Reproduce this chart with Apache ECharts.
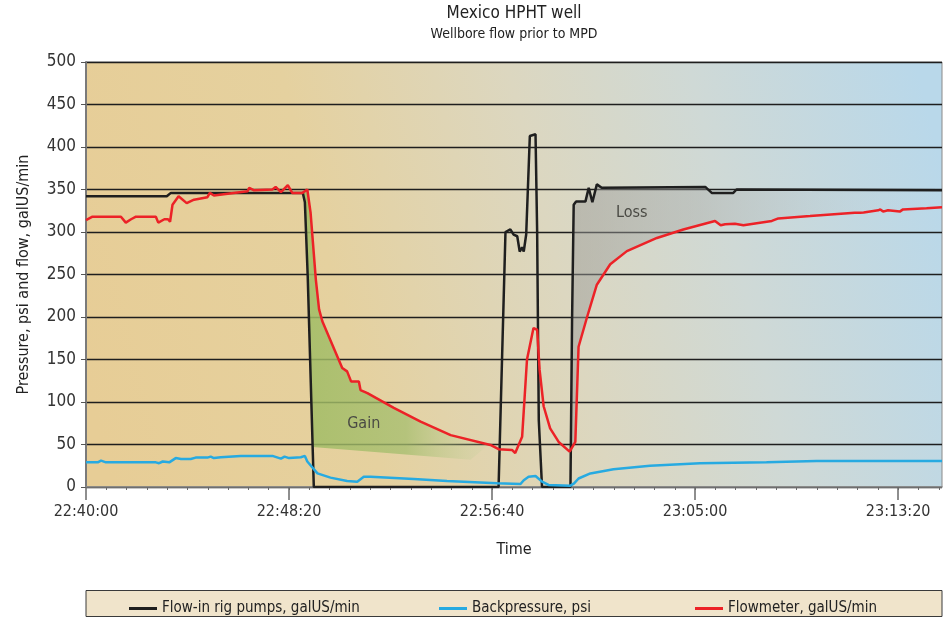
<!DOCTYPE html>
<html>
<head>
<meta charset="utf-8">
<title>Mexico HPHT well</title>
<script src="https://cdn.jsdelivr.net/npm/echarts@6/dist/echarts.min.js"></script>
<style>
  html, body { margin: 0; padding: 0; background: #fff; }
  #chart { width: 948px; height: 618px; }
</style>
</head>
<body>
<div id="chart"></div>
<script>
// Time is stored as seconds after 22:40:00.
const START_SECONDS = 22 * 3600 + 40 * 60;
const timeTicks = [0, 500, 1000, 1500, 2000];
const timeMax = 2108;

// Flow-in rig pumps, galUS/min  [seconds, value]
const flowIn = [
  [0, 342], [199, 342], [209, 346], [534, 346], [539, 335], [546, 248], [555, 99], [561, 0],
  [1016, 0], [1033, 300], [1045, 303], [1053, 297], [1062, 295], [1068, 277], [1074, 282],
  [1078, 277], [1084, 297], [1093, 413], [1097, 415], [1107, 415], [1111, 300], [1115, 79],
  [1123, 0], [1193, 0], [1197, 197], [1201, 332], [1207, 336], [1230, 336], [1238, 352],
  [1247, 335], [1258, 356], [1270, 352], [1525, 353], [1541, 346], [1594, 346], [1602, 350],
  [2108, 349]
];

// Backpressure, psi
const backpressure = [
  [0, 29], [29, 29], [37, 31], [49, 29], [86, 29], [172, 29], [180, 28], [189, 30], [205, 29],
  [221, 34], [234, 33], [258, 33], [270, 34.6], [299, 34.6], [307, 35.8], [315, 34], [332, 35],
  [381, 36.6], [459, 36.6], [480, 33.4], [489, 35.8], [500, 34], [529, 35], [539, 36.6],
  [545, 30], [570, 16], [602, 11], [643, 7], [668, 6.3], [672, 6.3], [684, 12], [701, 12],
  [807, 9.4], [889, 7], [1012, 4.3], [1070, 3.5], [1078, 8], [1090, 12], [1107, 13], [1123, 6.3],
  [1139, 2.4], [1193, 1.6], [1202, 4.3], [1213, 10], [1242, 16], [1299, 21], [1389, 25],
  [1512, 28], [1676, 29], [1799, 30.7], [2108, 30.7]
];

// Flowmeter, galUS/min
const flowmeter = [
  [0, 314], [16, 318], [86, 318], [98, 311], [111, 315], [123, 318], [172, 318], [178, 311],
  [193, 315], [202, 315], [207, 312], [213, 332], [228, 342], [248, 334], [266, 338], [299, 341],
  [305, 346], [315, 343], [398, 348], [402, 352], [414, 349], [459, 350], [467, 353], [480, 347],
  [497, 355], [508, 346], [533, 346], [545, 350], [553, 323], [566, 244], [574, 209], [582, 195],
  [631, 140], [643, 136], [653, 124], [672, 124], [676, 114], [693, 110.5], [758, 93], [824, 77],
  [898, 61], [996, 49.5], [1016, 44.5], [1049, 43.6], [1052, 45.6], [1057, 40], [1074, 59],
  [1086, 150], [1102, 187], [1111, 185], [1117, 138], [1127, 95], [1143, 69], [1164, 53],
  [1191, 41.6], [1205, 53], [1213, 165], [1234, 200], [1258, 238], [1291, 262], [1332, 277.5],
  [1406, 293], [1471, 303], [1549, 313], [1553, 311], [1563, 308], [1574, 309], [1598, 309.7],
  [1619, 308], [1660, 311], [1689, 313], [1705, 316], [1783, 318.7], [1893, 322.7], [1897, 324],
  [1906, 322.7], [1915, 323], [1951, 325.5], [1956, 326.6], [1963, 324], [1975, 325.5],
  [2004, 324], [2012, 326.6], [2070, 328], [2108, 329]
];

// Lower edge of the shaded gain band
const gainFloor = [[558, 47], [947, 32], [996, 51.5]];
// Where the shaded loss band starts on the rising pump curve
const lossStart = [1194, 47];
const gainLabel = { text: 'Gain', at: [684, 74] };
const lossLabel = { text: 'Loss', at: [1344, 323] };

const FONT = '"Liberation Sans Narrow", "DejaVu Sans Condensed", "Liberation Sans", sans-serif';

function clock(s) {
  const t = START_SECONDS + Math.round(s);
  const h = Math.floor(t / 3600) % 24;
  const m = Math.floor((t % 3600) / 60);
  const sec = t % 60;
  const p = n => String(n).padStart(2, '0');
  return p(h) + ':' + p(m) + ':' + p(sec);
}

function between(series, a, b) {
  return series.filter(d => d[0] >= a && d[0] <= b);
}

// Gain: between the falling pump curve and the flowmeter, above the floor line
const gainPoly = []
  .concat(between(flowIn, 534, 557))
  .concat(gainFloor)
  .concat(between(flowmeter, 545, 996).reverse());

// Loss: between the pump curve (top) and the flowmeter (bottom) after restart
const lossPoly = [lossStart]
  .concat(between(flowIn, 1197, timeMax))
  .concat(between(flowmeter, 1205, timeMax).reverse());

const minorTicks = [];
for (let s = 50; s <= 2100; s += 50) minorTicks.push(s);

const chart = echarts.init(document.getElementById('chart'));

function bandSeries(poly, stops, label) {
  return {
    type: 'custom',
    coordinateSystem: 'cartesian2d',
    silent: true,
    z: 1,
    data: [[0, 0]],
    encode: { x: 0, y: 1 },
    renderItem: function (params, api) {
      const pts = poly.map(p => api.coord(p));
      const lp = api.coord(label.at);
      return {
        type: 'group',
        children: [
          {
            type: 'polygon',
            shape: { points: pts },
            style: { fill: new echarts.graphic.LinearGradient(0, 0, 1, 0, stops) }
          },
          {
            type: 'text',
            x: lp[0], y: lp[1],
            style: {
              text: label.text, fill: '#4a4a44', font: '16px ' + FONT,
              align: 'center', verticalAlign: 'middle'
            }
          }
        ]
      };
    }
  };
}

const option = {
  animation: false,
  backgroundColor: '#ffffff',
  textStyle: { fontFamily: FONT },
  graphic: [
    {
      type: 'text', x: 514, y: 14, z: 10,
      style: { text: 'Mexico HPHT well', font: '17px ' + FONT, fill: '#222', align: 'center', verticalAlign: 'middle' }
    },
    {
      type: 'text', x: 514, y: 34, z: 10,
      style: { text: 'Wellbore flow prior to MPD', font: '14px ' + FONT, fill: '#222', align: 'center', verticalAlign: 'middle' }
    },
    {
      type: 'rect', z: -1,
      shape: { x: 86, y: 590.5, width: 856, height: 26 },
      style: { fill: '#f0e4cb', stroke: '#3a3a3a', lineWidth: 1 }
    }
  ],
  grid: {
    left: 86, right: 6, top: 62, bottom: 131,
    show: true,
    borderColor: '#8a8a8a', borderWidth: 1,
    backgroundColor: new echarts.graphic.LinearGradient(0, 0.75, 1, 0.25, [
      { offset: 0, color: '#e7cd96' },
      { offset: 0.3, color: '#e5d19f' },
      { offset: 0.55, color: '#dcd7c0' },
      { offset: 0.75, color: '#cfd9d6' },
      { offset: 1, color: '#b9d8ea' }
    ])
  },
  legend: [
    {
      left: 124, top: 596, icon: 'rect', itemWidth: 28, itemHeight: 3, itemGap: 6,
      data: ['Flow-in rig pumps, galUS/min'],
      textStyle: { fontSize: 15, color: '#222', fontFamily: FONT }
    },
    {
      left: 434, top: 596, icon: 'rect', itemWidth: 28, itemHeight: 3, itemGap: 6,
      data: ['Backpressure, psi'],
      textStyle: { fontSize: 15, color: '#222', fontFamily: FONT }
    },
    {
      left: 690, top: 596, icon: 'rect', itemWidth: 28, itemHeight: 3, itemGap: 6,
      data: ['Flowmeter, galUS/min'],
      textStyle: { fontSize: 15, color: '#222', fontFamily: FONT }
    }
  ],
  xAxis: [
    {
      type: 'value', min: 0, max: timeMax, interval: 500,
      name: 'Time', nameLocation: 'middle', nameGap: 55,
      nameTextStyle: { fontSize: 16, color: '#222', fontFamily: FONT },
      axisLine: { show: true, lineStyle: { color: '#8a8a8a', width: 1.5 } },
      axisTick: { show: true, length: 13, customValues: timeTicks, lineStyle: { color: '#6a6a6a', width: 1.5 } },
      axisLabel: {
        customValues: timeTicks, margin: 17, fontSize: 16, color: '#333', fontFamily: FONT,
        formatter: v => clock(v)
      },
      splitLine: { show: false }
    },
    {
      type: 'value', min: 0, max: timeMax, position: 'bottom',
      axisLine: { show: false },
      axisTick: { show: true, length: 3, customValues: minorTicks, lineStyle: { color: '#6a6a6a', width: 1 } },
      axisLabel: { show: false },
      splitLine: { show: false }
    }
  ],
  yAxis: {
    type: 'value', min: 0, max: 500, interval: 50,
    name: 'Pressure, psi and flow, galUS/min', nameLocation: 'middle', nameGap: 54,
    nameTextStyle: { fontSize: 16, color: '#222', fontFamily: FONT },
    axisLine: { show: true, lineStyle: { color: '#7a7a7a', width: 2 } },
    axisTick: { show: true, length: 5, lineStyle: { color: '#555', width: 1 } },
    axisLabel: { margin: 10, fontSize: 17, color: '#333', fontFamily: FONT },
    splitLine: { show: true, lineStyle: { color: '#1e1e1e', width: 1.3 } }
  },
  series: [
    bandSeries(gainPoly, [
      { offset: 0, color: 'rgba(160,188,100,0.85)' },
      { offset: 0.55, color: 'rgba(165,190,110,0.75)' },
      { offset: 1, color: 'rgba(200,210,160,0.15)' }
    ], gainLabel),
    bandSeries(lossPoly, [
      { offset: 0, color: 'rgba(155,155,152,0.5)' },
      { offset: 0.35, color: 'rgba(165,167,165,0.4)' },
      { offset: 0.75, color: 'rgba(175,185,190,0.12)' },
      { offset: 1, color: 'rgba(185,200,210,0)' }
    ], lossLabel),
    {
      name: 'Flow-in rig pumps, galUS/min', type: 'line', data: flowIn, showSymbol: false,
      z: 3, color: '#1f1f1f', lineStyle: { color: '#1f1f1f', width: 2.5 }
    },
    {
      name: 'Backpressure, psi', type: 'line', data: backpressure, showSymbol: false,
      z: 3, color: '#27aae1', lineStyle: { color: '#27aae1', width: 2.5 }
    },
    {
      name: 'Flowmeter, galUS/min', type: 'line', data: flowmeter, showSymbol: false,
      z: 4, color: '#ec2227', lineStyle: { color: '#ec2227', width: 2.5 }
    }
  ]
};

chart.setOption(option);
</script>
</body>
</html>
